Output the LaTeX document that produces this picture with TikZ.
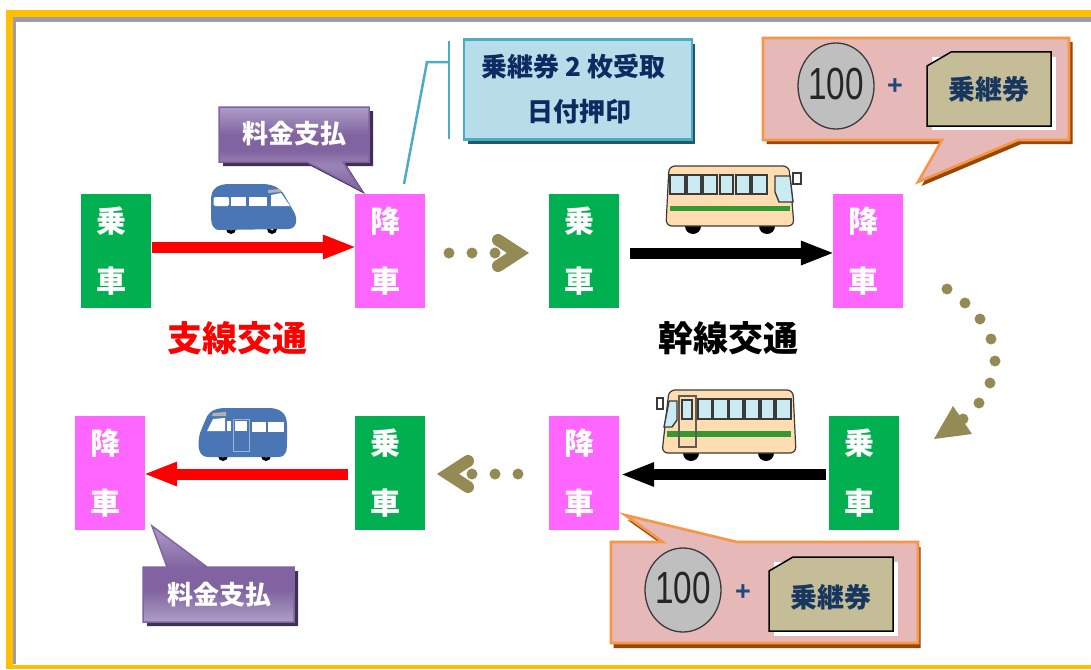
\documentclass[tikz,border=0pt]{standalone}
\usepackage{fontspec}
\setmainfont{Liberation Sans}
\newfontfamily\cjk{Noto Sans CJK JP}
\usetikzlibrary{arrows.meta,calc,shapes.geometric}
\definecolor{frameY}{HTML}{FFC000}
\definecolor{frameG}{HTML}{A09AAB}
\definecolor{boardG}{HTML}{00B050}
\definecolor{boardP}{HTML}{FF66FF}
\definecolor{olive}{HTML}{948A54}
\definecolor{busB}{HTML}{4A76B5}
\definecolor{busC}{HTML}{FFDDB0}
\definecolor{busW}{HTML}{CBEBF3}
\definecolor{busL}{HTML}{3A3A3A}
\definecolor{busS}{HTML}{339933}
\definecolor{plL}{HTML}{AE9EC6}
\definecolor{plD}{HTML}{8063A0}
\definecolor{plM}{HTML}{9A84B5}
\definecolor{plB}{HTML}{8064A2}
\definecolor{plS}{HTML}{403152}
\definecolor{noteF}{HTML}{B7DDE8}
\definecolor{noteB}{HTML}{4BACC6}
\definecolor{noteS}{HTML}{215967}
\definecolor{noteT}{HTML}{0F2A60}
\definecolor{pinkF}{HTML}{E6B8B7}
\definecolor{pinkB}{HTML}{F79646}
\definecolor{pinkS}{HTML}{974806}
\definecolor{coinF}{HTML}{BFBFBF}
\definecolor{tickF}{HTML}{C4BD97}
\definecolor{tickT}{HTML}{17375E}
\definecolor{plusC}{HTML}{1F497D}
\pgfdeclareverticalshading{purpleTop}{100bp}{color(0bp)=(plD); color(25bp)=(plD); color(40bp)=(plM); color(49bp)=(plD); color(58bp)=(plD); color(75bp)=(plL); color(100bp)=(plL)}
\pgfdeclareverticalshading{purpleBot}{100bp}{color(0bp)=(plL); color(25bp)=(plL); color(42bp)=(plD); color(53bp)=(plD); color(75bp)=(plL); color(100bp)=(plL)}
\newcommand\brdtext[2]{\hspace*{-9pt}#1\\\hspace*{-9pt}#2}
\tikzset{
  stopbox/.style={minimum width=70pt,minimum height=114pt,inner sep=0pt,align=center,text=white,
     font=\cjk\bfseries\fontsize{30}{60}\selectfont},
  fat/.style={line width=11pt,shorten >=-2pt,-{Triangle[length=34pt,width=22pt]}},
  dotc/.style={fill=olive},
  chev/.style={draw=olive,line width=12pt,line cap=round,miter limit=10},
  captext/.style={inner sep=0pt,font=\cjk\bfseries\fontsize{35}{40}\selectfont},
  paytext/.style={inner sep=0pt,text=white,font=\cjk\bfseries\fontsize{26}{30}\selectfont},
  coin/.style={ellipse,draw=busL,line width=1.3pt,fill=coinF},
  cointext/.style={inner sep=0pt,text=black!85,font=\fontsize{45}{50}\selectfont},
  plustext/.style={inner sep=0pt,text=plusC,font=\bfseries\fontsize{27}{28}\selectfont},
  ticktext/.style={inner sep=0pt,text=tickT,font=\cjk\bfseries\fontsize{27}{30}\selectfont},
  ticket/.style={fill=tickF,draw=black,line width=1.5pt},
  pinkbub/.style={fill=pinkF,draw=pinkB,line width=2.6pt,miter limit=10},
  win/.style={fill=busW,draw=busL,line width=1.4pt},
  bodyc/.style={fill=busC,draw=busL,line width=1.2pt},
  bwin/.style={fill=white,draw=none},
}
\begin{document}
\begin{tikzpicture}[x=1pt,y=-1pt]
\useasboundingbox (0,0) rectangle (1091,669);
% frame
\fill[frameG] (13,17) rectangle (1091,22);
\fill[frameG] (13,17) rectangle (16,664);
\fill[frameY] (6,10) rectangle (1091,17);
\fill[frameY] (6,10) rectangle (13,669);
\fill[frameY] (6,664.5) rectangle (1091,669);

% boards
\node[stopbox,fill=boardG] (t1) at (116,251) {\brdtext{乗}{車}};
\node[stopbox,fill=boardP] (t2) at (390,251) {\brdtext{降}{車}};
\node[stopbox,fill=boardG] (t3) at (584,251) {\brdtext{乗}{車}};
\node[stopbox,fill=boardP] (t4) at (868,251) {\brdtext{降}{車}};
\node[stopbox,fill=boardP] (b1) at (110,473) {\brdtext{降}{車}};
\node[stopbox,fill=boardG] (b2) at (390,473) {\brdtext{乗}{車}};
\node[stopbox,fill=boardP] (b3) at (584,473) {\brdtext{降}{車}};
\node[stopbox,fill=boardG] (b4) at (864,473) {\brdtext{乗}{車}};

% connectors
\draw[fat,red] ([shift={(1,-4)}]t1.east) -- ([shift={(0,-4)}]t2.west);
\draw[fat,black] ([shift={(11,2)}]t3.east) -- ([shift={(0,2)}]t4.west);
\draw[fat,black] ([shift={(-3,1.5)}]b4.west) -- ([shift={(3,1.5)}]b3.east);
\draw[fat,red] ([shift={(-7,1)}]b2.west) -- ([shift={(0,1)}]b1.east);

% labels
\node[captext,text=red] (lab1) at (237,338) {支線交通};
\node[captext,text=black] (lab2) at (728,338) {幹線交通};

% dotted transfers
\foreach \x in {449,472,495} \fill[dotc] (\x,253) circle (5.5pt);
\draw[chev] (498,240) -- (518,253) -- (498,266);
\foreach \x in {472,495,518} \fill[dotc] (\x,474) circle (5.5pt);
\draw[chev] (468,461) -- (448,474) -- (468,487);
\foreach \x/\y in {947/289,965/303,980/319,991/339,995/361,990/383,979/403,963/419} \fill[dotc] (\x,\y) circle (5.5pt);
\fill[olive] (953,406) -- (934,439) -- (972,434) -- cycle;

% top pay callout
\fill[plS,shift={(4,4)}] (219,107) -- (369,107) -- (369,162) -- (343,162) -- (361,190) -- (307,162) -- (219,162) -- cycle;
\path[draw=plB,line width=1.5pt,shading=purpleTop,miter limit=10] (219,107) -- (369,107) -- (369,162) -- (343,162) -- (361,190) -- (307,162) -- (219,162) -- cycle;
\node[paytext] (pay1) at (294.5,133.5) {料金支払};

% bottom pay callout
\fill[plS,shift={(4,4)}] (143,567) -- (167,567) -- (152,526) -- (207,567) -- (294,567) -- (294,622) -- (143,622) -- cycle;
\path[draw=plB,line width=1.5pt,shading=purpleBot,miter limit=10] (143,567) -- (167,567) -- (152,526) -- (207,567) -- (294,567) -- (294,622) -- (143,622) -- cycle;
\node[paytext] (pay2) at (219,594.5) {料金支払};

% note box
\fill[noteS] (468,44) rectangle (695,144);
\node[fill=noteF,draw=noteB,line width=2.6pt,minimum width=228pt,minimum height=100pt,text width=194pt,inner xsep=17pt,inner ysep=0pt,align=left,text=noteT,
  font=\cjk\bfseries\fontsize{26}{45}\selectfont] (note) at (578,89.5) {乗継券\hspace{6.3pt}2\hspace{6.3pt}枚受取\\\hspace*{46pt}日付押印};
\coordinate (brT) at (449,41);
\coordinate (brB) at (449,139);
\coordinate (brM) at (449,62);
\coordinate (brK) at (427,62);
\coordinate (brE) at (404,184);
\draw[noteB,line width=2.5pt] (brT) -- (brB);
\draw[noteB,line width=2.5pt] (brM) -- (brK) -- (brE);

% top coin callout
\fill[pinkS,shift={(3.5,4)}] (763,38) -- (1069,38) -- (1069,140) -- (1018,140) -- (918,182) -- (942,140) -- (763,140) -- cycle;
\path[pinkbub] (763,38) -- (1069,38) -- (1069,140) -- (1018,140) -- (918,182) -- (942,140) -- (763,140) -- cycle;
\node[coin,minimum width=76pt,minimum height=86pt,inner sep=0pt] (coin1) at (836,86) {};
\node[cointext] (coin1t) at (836,84) {\scalebox{0.74}[1]{100}};
\node[plustext] (plus1) at (895,87) {+};
\fill[white] (932,57) rectangle (1056,130);
\path[ticket] (927,66) -- (951,52) -- (1051,52) -- (1051,126) -- (927,126) -- cycle;
\node[ticktext] (tick1) at (989,89) {乗継券};

% bottom coin callout
\fill[pinkS,shift={(2.5,5)}] (611,542) -- (663,542) -- (625,515) -- (737,542) -- (918,542) -- (918,643) -- (611,643) -- cycle;
\path[pinkbub] (611,542) -- (663,542) -- (625,515) -- (737,542) -- (918,542) -- (918,643) -- (611,643) -- cycle;
\node[coin,minimum width=76pt,minimum height=84pt,inner sep=0pt] (coin2) at (683,590) {};
\node[cointext] (coin2t) at (683,588) {\scalebox{0.74}[1]{100}};
\node[plustext] (plus2) at (743,593) {+};
\fill[white] (774,562) rectangle (898,636);
\path[ticket] (769,571) -- (793,557) -- (893,557) -- (893,631) -- (769,631) -- cycle;
\node[ticktext] (tick2) at (831,597) {乗継券};

% blue bus, top
\fill[black] (231,229) circle (5pt) (272,229) circle (5pt);
\fill[white] (231,229) circle (1.5pt) (272,229) circle (1.5pt);
\fill[busB] (211,215) -- (211,200) .. controls (211,188) and (218,184) .. (230,184) -- (262,184) .. controls (276,184) and (282,190) .. (286,198) -- (294,212) .. controls (298,219) and (297,229) .. (288,229) -- (220,230) .. controls (213,230) and (211,225) .. (211,215) -- cycle;
\fill[bwin,rounded corners=1.5pt] (213.5,197) rectangle (229,206);
\fill[bwin] (230.5,197) rectangle (246,206);
\fill[bwin] (249,197) rectangle (267,206);
\fill[bwin] (271,195) -- (281,193) -- (290,206) -- (271,206) -- cycle;
\fill[gray!60] (268,190) -- (280,189) -- (281,192) -- (268,193) -- cycle;

% blue bus, bottom
\fill[black] (223,456) circle (5pt) (266,456) circle (5pt);
\fill[white] (223,456) circle (1.5pt) (266,456) circle (1.5pt);
\fill[busB] (287,440) -- (287,425) .. controls (287,413) and (280,408) .. (268,408) -- (225,408) .. controls (211,408) and (207,415) .. (205,421) -- (200,433) .. controls (197,445) and (198,457) .. (208,457) -- (278,457) .. controls (287,457) and (287,450) .. (287,440) -- cycle;
\fill[bwin] (213,419) -- (225,418) -- (225,431) -- (207,431) -- cycle;
\fill[bwin] (227,421) rectangle (231,431);
\fill[bwin] (252,422) rectangle (266,432);
\fill[bwin] (267.5,422) rectangle (284,432);
\draw[busB!55!white,line width=1pt] (233,419) rectangle (249,451);
\fill[bwin] (235,421) rectangle (247,431);
\fill[gray!60] (213,413) -- (226,412) -- (226,416) -- (212,416) -- cycle;

% coach, top
\fill[black] (693,226) circle (8pt) (767,226) circle (8pt);
\path[bodyc,rounded corners=6pt] (666,226) -- (669,166) -- (789,166) -- (794,226) -- cycle;
\foreach \a/\b in {670/685,687/701,703/717,720/733,736/750,752/767} \path[win] (\a,175) rectangle (\b,194);
\path[win] (775,176) -- (790,176) -- (793,202) -- (779,202) -- (775,192) -- cycle;
\fill[busS] (670,206) rectangle (790,211);
\path[fill=white,draw=busL,line width=1.2pt] (793,173) rectangle (801,184);

% coach, bottom
\fill[black] (691,453) circle (8pt) (766,453) circle (8pt);
\path[bodyc,rounded corners=6pt] (662,453) -- (669,390) -- (793,390) -- (796,453) -- cycle;
\foreach \a/\b in {698/712,713/728,729/743,745/759,761/774,776/791} \path[win] (\a,399) rectangle (\b,419);
\path[win] (669,401) -- (677,401) -- (677,420) -- (672,427) -- (664,427) -- cycle;
\fill[busS] (667,431) rectangle (791,437);
\draw[busL!80!busC,line width=1.2pt] (679,396) rectangle (696,447);
\path[win] (682,400) rectangle (692,419);
\path[fill=white,draw=busL,line width=1.2pt] (657,398) rectangle (663,409);
\end{tikzpicture}
\end{document}
